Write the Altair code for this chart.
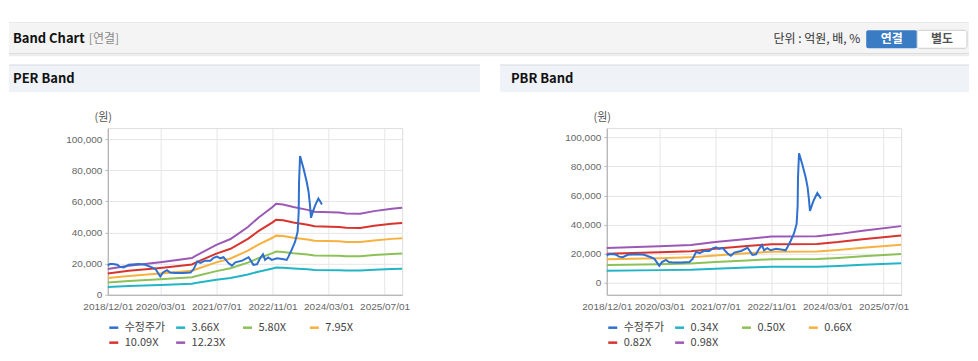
import altair as alt
import pandas as pd

FONT = "Liberation Sans, Noto Sans CJK KR, sans-serif"
KFONT = "Noto Sans CJK KR, Liberation Sans, sans-serif"

# ---------------- text ----------------
HEADER_TITLE = "Band Chart"
HEADER_SUB = "[연결]"
UNIT_TEXT = "단위 : 억원, 배, %"
BTN_ON = "연결"
BTN_OFF = "별도"
PER_TITLE = "PER Band"
PBR_TITLE = "PBR Band"
Y_UNIT = "(원)"
PRICE_LABEL = "수정주가"
PER_LABELS = ["3.66X", "5.80X", "7.95X", "10.09X", "12.23X"]
PBR_LABELS = ["0.34X", "0.50X", "0.66X", "0.82X", "0.98X"]
COLORS = ["#2f6fce", "#22b5c6", "#8cc158", "#f6b13f", "#d8342f", "#9b58b5"]
X_TICKS = ["2018-12-01", "2020-03-01", "2021-07-01", "2022-11-01", "2024-03-01", "2025-07-01"]
Y_TICKS = [0, 20000, 40000, 60000, 80000, 100000]

# ---------------- price (수정주가) ----------------
price_dates = ["2018-12-01", "2018-12-19", "2019-01-15", "2019-02-21", "2019-03-16", "2019-04-19",
               "2019-06-01", "2019-08-25", "2019-10-22", "2019-12-19", "2020-01-19", "2020-03-01",
               "2020-03-25", "2020-04-28", "2020-05-25", "2020-07-10", "2020-09-07", "2020-11-19",
               "2020-12-16", "2021-01-16", "2021-02-13", "2021-03-25", "2021-05-10", "2021-06-07",
               "2021-07-07", "2021-08-04", "2021-09-01", "2021-10-16", "2021-11-13", "2021-12-13",
               "2022-02-10", "2022-04-07", "2022-04-22", "2022-05-19", "2022-06-19", "2022-07-16",
               "2022-08-10", "2022-08-28", "2022-09-25", "2022-10-25", "2022-12-10", "2023-02-07",
               "2023-03-04", "2023-03-19", "2023-04-16", "2023-05-16", "2023-06-07", "2023-06-16",
               "2023-06-19", "2023-06-28", "2023-07-28", "2023-08-25", "2023-09-10", "2023-09-22",
               "2023-10-01", "2023-10-22", "2023-11-07", "2023-12-04", "2023-12-19", "2024-01-04"]
price_values = [18700, 19700, 19800, 19300, 18000, 17600, 19300, 19700, 19300, 17600, 16500, 11700,
                14300, 15800, 14300, 13900, 13900, 14300, 16500, 21300, 20400, 21900, 21900, 23700,
                24500, 23400, 24100, 20200, 18700, 20800, 21900, 24100, 22400, 19200, 19600, 23400,
                26000, 22400, 23900, 22400, 23400, 22800, 22400, 24500, 28800, 34100, 40500, 53000,
                72000, 89000, 81000, 72400, 66000, 57500, 49400, 54300, 57500, 61800, 60000, 58000]

# ---------------- PER bands ----------------
per_dates = ["2018-12-01", "2019-06-01", "2020-03-01", "2020-12-01", "2021-01-01", "2021-07-01",
             "2021-11-01", "2022-04-01", "2022-07-01", "2022-11-01", "2022-12-01", "2023-02-01",
             "2023-05-01", "2023-09-01", "2023-11-01", "2024-06-01", "2024-08-01", "2024-12-01",
             "2025-04-01", "2025-09-01", "2025-12-01"]
per_366 = [4970, 5570, 6250, 7060, 7480, 9580, 10710, 13020, 14810, 16850, 17480, 17360,
           16850, 16310, 15950, 15800, 15620, 15560, 16070, 16520, 16730]
per_580 = [7870, 8820, 9910, 11190, 11860, 15180, 16980, 20630, 23470, 26700, 27700, 27510,
           26700, 25850, 25280, 25040, 24760, 24660, 25470, 26180, 26510]
per_795 = [10790, 12090, 13590, 15340, 16250, 20800, 23270, 28280, 32180, 36600, 37960, 37700,
           36600, 35430, 34650, 34320, 33930, 33800, 34910, 35880, 36340]
per_1009 = [13700, 15350, 17240, 19470, 20630, 26400, 29540, 35890, 40840, 46450, 48180, 47850,
            46450, 44960, 43970, 43560, 43070, 42900, 44300, 45540, 46120]
per_1223 = [16600, 18600, 20900, 23600, 25000, 32000, 35800, 43500, 49500, 56300, 58400, 58000,
            56300, 54500, 53300, 52800, 52200, 52000, 53700, 55200, 55900]

# ---------------- PBR bands ----------------
pbr_dates = ["2018-12-01", "2020-03-01", "2020-12-01", "2021-07-01", "2022-04-01", "2022-11-01",
             "2023-12-01", "2024-06-01", "2025-01-01", "2025-12-01"]
pbr_034 = [8330, 8740, 9020, 9710, 10480, 11030, 11100, 11620, 12420, 13530]
pbr_050 = [12240, 12860, 13270, 14290, 15410, 16220, 16330, 17090, 18270, 19900]
pbr_066 = [16160, 16970, 17510, 18860, 20340, 21420, 21550, 22560, 24110, 26270]
pbr_082 = [20080, 21090, 21760, 23430, 25270, 26610, 26780, 28030, 29960, 32630]
pbr_098 = [24000, 25200, 26000, 28000, 30200, 31800, 32000, 33500, 35800, 39000]

W, H = 295, 167


def dt(s):
    y, m, d = (int(p) for p in s.split("-"))
    return alt.DateTime(year=y, month=m, date=d)


def band_frame(dates, series_list, labels):
    rows = []
    for lab, vals in zip(labels, series_list):
        for d, v in zip(dates, vals):
            rows.append({"date": d, "value": v, "series": lab})
    return pd.DataFrame(rows)


price_df = pd.DataFrame({"date": price_dates, "value": price_values, "series": PRICE_LABEL})

ONE = pd.DataFrame({"k": [0]})


def rect(x1, x2, y1, y2, fill, stroke=None, radius=0):
    kw = dict(fill=fill, cornerRadius=radius)
    if stroke:
        kw.update(stroke=stroke, strokeWidth=1)
    else:
        kw.update(strokeWidth=0)
    return alt.Chart(ONE).mark_rect(**kw).encode(
        x=alt.value(x1), x2=alt.value(x2), y=alt.value(y1), y2=alt.value(y2))


def label(txt, x, y, size=12, weight="normal", color="#222", align="left", font=KFONT):
    return alt.Chart(pd.DataFrame({"t": [txt]})).mark_text(
        align=align, baseline="middle", fontSize=size, fontWeight=weight,
        color=color, font=font).encode(text="t:N", x=alt.value(x), y=alt.value(y))


def panel(band_dates, band_series, labels, ydomain, deco):
    band_df = band_frame(band_dates, band_series, labels)
    color = alt.Color(
        "series:N",
        scale=alt.Scale(domain=[PRICE_LABEL] + labels, range=COLORS),
        legend=alt.Legend(title=None, orient="none", legendX=0, legendY=194, columns=4,
                          direction="horizontal", symbolType="stroke", symbolStrokeWidth=2.5,
                          symbolSize=81, labelFontSize=11, labelColor="#444", labelFont=KFONT,
                          columnPadding=5, rowPadding=4, gridAlign="all", labelOffset=5))
    x = alt.X("date:T",
              scale=alt.Scale(domain=[dt("2018-12-01"), dt("2025-12-01")]),
              axis=alt.Axis(values=[dt(s) for s in X_TICKS], format="%Y/%m/%d", title=None,
                            labelColor="#666", labelFontSize=10, labelFont=FONT, tickSize=0,
                            labelPadding=7, labelOverlap=False, labelFlush=False,
                            gridColor="#e6e6e6", domainColor="#aaaaaa"))
    y = alt.Y("value:Q",
              scale=alt.Scale(domain=ydomain, nice=False, zero=False),
              axis=alt.Axis(values=Y_TICKS, format=",d", title=Y_UNIT, titleAngle=0,
                            titleX=-5, titleY=-11, titleAlign="center", titleBaseline="middle",
                            titleFontWeight="normal", titleColor="#555", titleFontSize=11,
                            titleFont=KFONT, labelColor="#666", labelFontSize=10, labelFont=FONT,
                            tickSize=3, tickColor="#bbbbbb", labelPadding=3, labelOverlap=False,
                            labelFlush=False, gridColor="#e6e6e6", domainColor="#aaaaaa"))
    bands = alt.Chart(band_df).mark_line(strokeWidth=2).encode(x=x, y=y, color=color)
    price = alt.Chart(price_df).mark_line(strokeWidth=2).encode(x=x, y=y, color=color)
    return alt.layer(*deco, bands, price).properties(width=W, height=H)


# layout decorations (relative to each plot area's top-left corner)
left_deco = [
    rect(-99, 383, -106, -105, "#e2e2e2"),
    rect(-99, 383, -105, -75, "#f4f4f4"),
    rect(-99, 383, -75, -74, "#d2d2d2"),
    rect(-99, 383, -74, -72, "#ececec"),
    rect(-99, 373, -64, -62, "#e2e6eb"),
    rect(-99, 373, -62, -36, "#eff2f7"),
    label(HEADER_TITLE, -95, -89, size=13, weight="bold", color="#111"),
    label(HEADER_SUB, -19, -89, size=12, color="#888"),
    label(PER_TITLE, -95, -49, size=13, weight="bold", color="#111"),
]
right_deco = [
    rect(-117, 363, -106, -105, "#e2e2e2"),
    rect(-117, 363, -105, -75, "#f4f4f4"),
    rect(-117, 363, -75, -74, "#d2d2d2"),
    rect(-117, 363, -74, -72, "#ececec"),
    rect(-107, 363, -64, -62, "#e2e6eb"),
    rect(-107, 363, -62, -36, "#eff2f7"),
    label(PBR_TITLE, -96, -49, size=13, weight="bold", color="#111"),
    label(UNIT_TEXT, 254, -89, size=12, color="#333", align="right"),
    rect(260, 311, -98, -80, "#3a7cc4", radius=2),
    rect(311, 361, -98, -80, "#ffffff", stroke="#cccccc", radius=2),
    label(BTN_ON, 285.5, -89, size=12, weight="bold", color="#ffffff", align="center"),
    label(BTN_OFF, 336, -89, size=12, weight="bold", color="#555555", align="center"),
]

per_chart = panel(per_dates, [per_366, per_580, per_795, per_1009, per_1223], PER_LABELS,
                  [0, 107000], left_deco)
pbr_chart = panel(pbr_dates, [pbr_034, pbr_050, pbr_066, pbr_082, pbr_098], PBR_LABELS,
                  [-8200, 106400], right_deco)

chart = alt.hconcat(per_chart, pbr_chart, spacing=205, bounds="flush").resolve_scale(
    x="independent", y="independent", color="independent"
).resolve_legend(color="independent").properties(
    padding={"top": 13, "left": 0, "right": 0, "bottom": 0}
).configure_view(stroke="#e0e0e0").configure(font=FONT)

chart.save("out.html", embed_options={"renderer": "svg", "actions": False})
